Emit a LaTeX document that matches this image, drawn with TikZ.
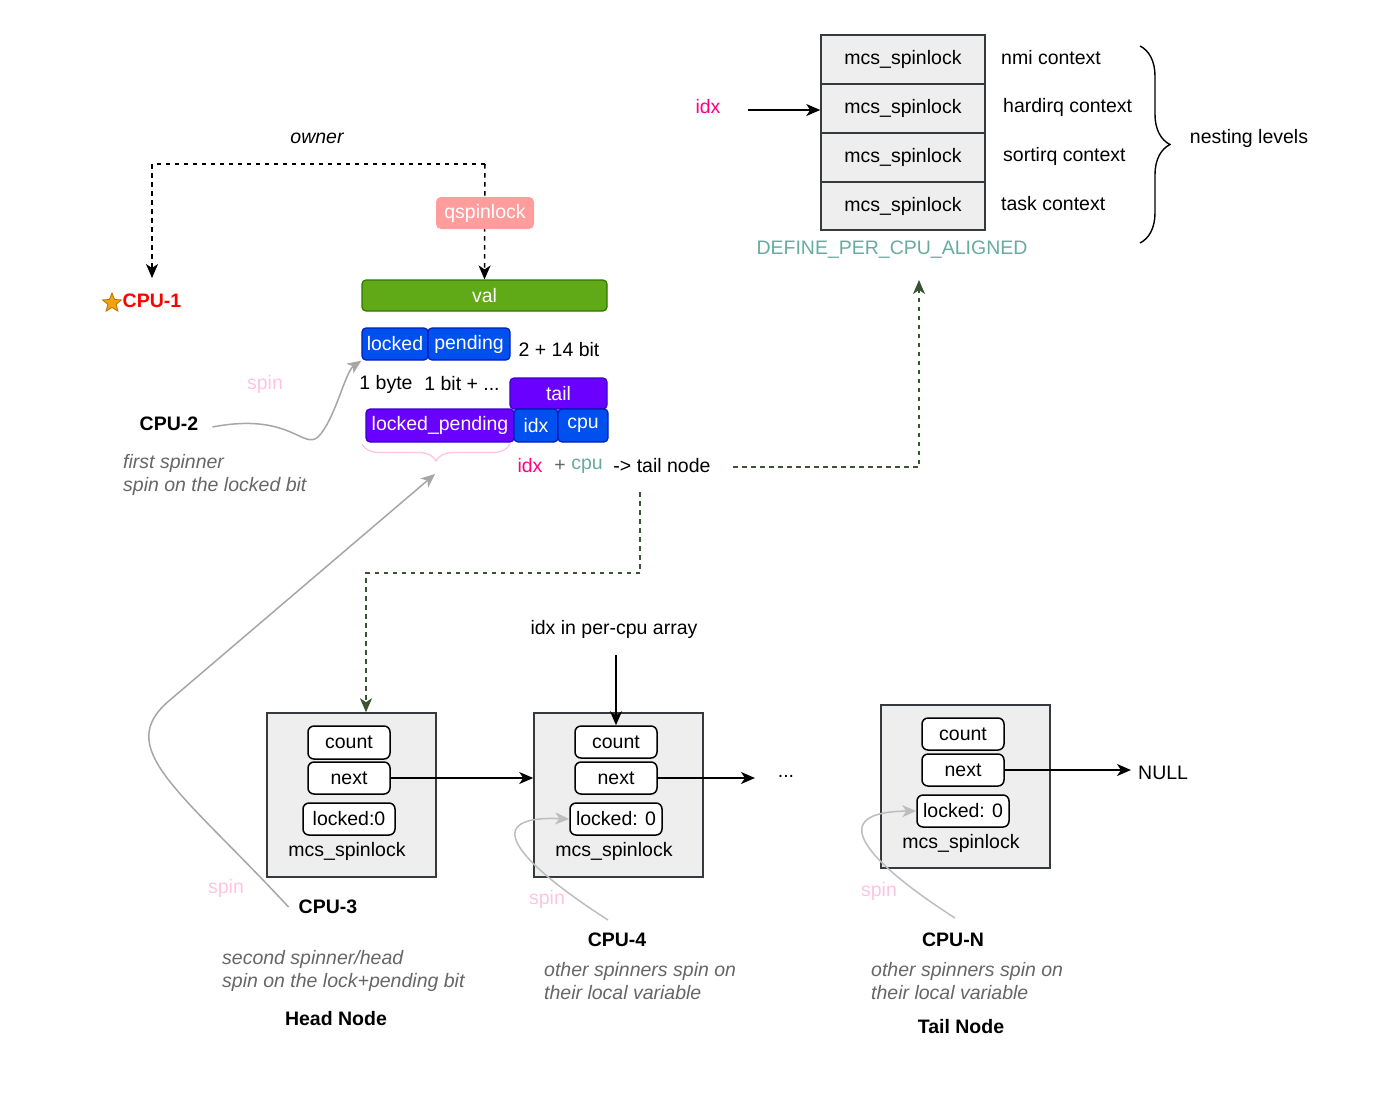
\documentclass[tikz,border=0pt]{standalone}
\usepackage{fontspec}
\setmainfont{Liberation Sans}
\usetikzlibrary{shapes.geometric,arrows.meta,decorations.pathreplacing,calc}
\definecolor{boxfill}{HTML}{EEEEEE}
\definecolor{boxline}{HTML}{36393D}
\definecolor{qred}{HTML}{FF9C9C}
\definecolor{vgreen}{HTML}{60A917}
\definecolor{vgreenb}{HTML}{2D7600}
\definecolor{fblue}{HTML}{0050EF}
\definecolor{fblueb}{HTML}{001DBC}
\definecolor{fpurp}{HTML}{6A00FF}
\definecolor{fpurpb}{HTML}{3700CC}
\definecolor{teal}{HTML}{67AB9F}
\definecolor{magen}{HTML}{FF0080}
\definecolor{itgray}{HTML}{666666}
\definecolor{spinpink}{HTML}{FFC4E1}
\definecolor{dgreen}{HTML}{3A5431}
\definecolor{cgray}{HTML}{A6A6A6}
\definecolor{cgrayl}{HTML}{BDBDBD}
\definecolor{staro}{HTML}{F0A30A}
\definecolor{starb}{HTML}{BD7000}
\begin{document}
\begin{tikzpicture}[x=1pt,y=-1pt,
  txt/.style={font=\fontsize{19.5}{23.4}\selectfont, inner sep=0pt},
  btxt/.style={font=\fontsize{19.5}{23.4}\selectfont\bfseries, inner sep=0pt},
  itxt/.style={font=\fontsize{19.5}{23}\selectfont\itshape, inner sep=0pt, text=itgray, align=left, anchor=west},
  spintxt/.style={txt, text=spinpink},
  field/.style={rectangle, rounded corners=4pt, line width=1.2pt, inner sep=0pt, text=white,
    font=\fontsize{19.5}{23.4}\selectfont, minimum height=32pt},
  bluef/.style={field, fill=fblue, draw=fblueb},
  purpf/.style={field, fill=fpurp, draw=fpurpb},
  trow/.style={rectangle, fill=boxfill, draw=boxline, line width=1.5pt, minimum width=164pt,
    minimum height=49pt, inner sep=0pt, font=\fontsize{19.5}{23.4}\selectfont},
  outer/.style={rectangle, fill=boxfill, draw=boxline, line width=1.5pt, minimum width=169pt,
    minimum height=164pt, inner sep=0pt},
  cell/.style={rectangle, rounded corners=6pt, fill=white, draw=black, line width=1.5pt,
    minimum height=32pt, inner sep=0pt, font=\fontsize{19.5}{23.4}\selectfont},
  arr/.style={line width=1.5pt, -{Stealth[length=14pt,width=12pt,inset=4pt]}},
  bdash/.style={line width=1.5pt, dash pattern=on 4.5pt off 4.5pt},
  gdash/.style={line width=1.5pt, draw=dgreen, dash pattern=on 4.5pt off 4.5pt},
  garr/.style={-{Stealth[length=14pt,width=12pt,inset=4pt,fill=dgreen]}},
  curvearr/.style={line width=1.5pt, draw=#1, -{Stealth[length=14pt,width=12pt,inset=4pt,fill=#1]}}
]
\useasboundingbox (0,0) rectangle (1390,1096);

% ---------- top left: owner / qspinlock / val ----------
\node[txt, font=\fontsize{19.5}{23.4}\selectfont\itshape] (owner) at (317,138) {owner};
\node[rectangle, rounded corners=4pt, fill=vgreen, draw=vgreenb, line width=1.2pt, text=white,
  minimum width=245pt, minimum height=31pt, inner sep=0pt, font=\fontsize{19.5}{23.4}\selectfont] (val) at (484.5,295.5) {val};
\coordinate (own) at (485,164);
\coordinate (cpuonetop) at (152,278);
\draw[bdash, arr] (own) -- (val.north);
\draw[bdash, arr] (own) -| (cpuonetop);
\node[rectangle, rounded corners=5pt, fill=qred, text=white, minimum width=98pt, minimum height=32pt,
  inner sep=0pt, font=\fontsize{19.5}{23.4}\selectfont] (qsl) at (485,213) {qspinlock};
\node[star, star points=5, star point ratio=2.3, fill=staro, draw=starb, line width=0.8pt,
  minimum size=20pt, inner sep=0pt] (star) at (112,303) {};
\node[btxt, text=red] (cpu1) at (152,301) {CPU-1};

% ---------- fields ----------
\node[bluef, minimum width=66pt] (locked) at (395,344) {locked};
\node[bluef, minimum width=82pt] (pending) at (469,344) {pending};
\node[txt] (bits) at (559,350) {2 + 14 bit};
\node[txt] (byte) at (386,384) {1 byte};
\node[txt] (onebit) at (462,384) {1 bit + ...};
\node[purpf, minimum width=97pt, minimum height=31pt] (tail) at (558.5,393.5) {tail};
\node[purpf, minimum width=148pt, minimum height=33pt] (lp) at (440,425.5) {locked\_pending};
\node[bluef, minimum width=44pt, minimum height=33pt] (fidx) at (536,425.5) {idx};
\node[bluef, minimum width=50pt, minimum height=33pt] (fcpu) at (583,425.5) {cpu};
\coordinate (brR) at (510,444);
\coordinate (brL) at (362,444);
\draw[spinpink, line width=1.3pt, decorate, decoration={brace, amplitude=17pt}] (brR) -- (brL);
\coordinate (brtip) at (435,474);

\node[txt, text=magen] (tidx) at (530,466) {idx};
\node[txt, text=itgray] (tplus) at (560,466) {+};
\node[txt, text=teal] (tcpu) at (587,466) {cpu};
\node[txt] (tnode) at (662,466) {-> tail node};

% ---------- CPU-2 ----------
\node[spintxt] (spin2) at (265,384) {spin};
\node[btxt] (cpu2) at (169,424) {CPU-2};
\node[itxt] (first) at (123,474.5) {first spinner\\spin on the locked bit};
\draw[curvearr=cgray] ([shift={(14,3)}]cpu2.east) .. controls (290,412) and (303,450) .. (318,437)
   .. controls (335,420) and (345,372) .. (locked.south west);

% ---------- per-cpu table ----------
\node[trow] (r1) at (903,59.5) {mcs\_spinlock};
\node[trow] (r2) at (903,108.5) {mcs\_spinlock};
\node[trow] (r3) at (903,157.5) {mcs\_spinlock};
\node[trow, minimum height=48pt] (r4) at (903,206) {mcs\_spinlock};
\node[txt, anchor=west] (c1) at (1001,58) {nmi context};
\node[txt, anchor=west] (c2) at (1003,107) {hardirq context};
\node[txt, anchor=west] (c3) at (1003,156) {sortirq context};
\node[txt, anchor=west] (c4) at (1001,204) {task context};
\node[txt, text=magen] (idxt) at (708,107) {idx};
\coordinate (idxs) at (748,110);
\draw[arr] (idxs) -- (r2.west |- idxs);
\coordinate (nbT) at (1140,46);
\coordinate (nbB) at (1140,243);
\draw[line width=1.4pt, decorate, decoration={brace, amplitude=30pt}] (nbT) -- (nbB);
\node[txt] (nest) at (1249,138) {nesting levels};
\node[txt, text=teal] (defpc) at (892,250) {DEFINE\_PER\_CPU\_ALIGNED};

% ---------- green dashed ----------
\coordinate (tnR) at (733,467);
\coordinate (defB) at (919,280);
\draw[gdash, garr] (tnR) -| (defB);

% ---------- bottom boxes ----------
\node[outer] (b3) at (351.5,795) {};
\node[cell, minimum width=82pt, minimum height=33pt] (b3c) at (349,742.5) {count};
\node[cell, minimum width=82pt] (b3n) at (349,778) {next};
\node[cell, minimum width=92pt] (b3l) at (349,819) {locked:0};
\node[txt] (b3t) at (347,851) {mcs\_spinlock};

\node[outer] (b4) at (618.5,795) {};
\node[cell, minimum width=82pt] (b4c) at (616,742) {count};
\node[cell, minimum width=82pt] (b4n) at (616,778) {next};
\node[cell, minimum width=92pt] (b4l) at (616,819) {locked: 0};
\node[txt] (b4t) at (614,851) {mcs\_spinlock};

\node[outer, minimum height=163pt] (bN) at (965.5,786.5) {};
\node[cell, minimum width=82pt] (bNc) at (963,734) {count};
\node[cell, minimum width=82pt] (bNn) at (963,770) {next};
\node[cell, minimum width=92pt] (bNl) at (963,811) {locked: 0};
\node[txt] (bNt) at (961,843) {mcs\_spinlock};

\coordinate (tnD) at (640,492);
\coordinate (hthree) at (366,573);
\draw[gdash, garr] (tnD) |- (hthree) -- (hthree |- b3.north);

\node[txt] (perarr) at (614,629) {idx in per-cpu array};
\coordinate (pas) at (616,655);
\draw[arr] (pas) -- (pas |- b4c.north);

\draw[arr] (b3n.east) -- (b3n.east -| b4.west);
\node[txt] (dots) at (786,776) {...};
\coordinate (dotsin) at (755,778);
\draw[arr] (b4n.east) -- (dotsin);
\node[txt, anchor=west] (null) at (1138,773) {NULL};
\draw[arr] (bNn.east) -- ([xshift=-7pt]null.west |- bNn.east);

% ---------- CPU-3 ----------
\node[spintxt] (spin3) at (226,888) {spin};
\node[btxt] (cpu3) at (328,907) {CPU-3};
\node[itxt] (second) at (222,970.5) {second spinner/head\\spin on the lock+pending bit};
\node[btxt] (head) at (336,1019) {Head Node};
\draw[curvearr=cgray] ([xshift=-10pt]cpu3.west) .. controls (180,790) and (112,748) .. (170,700) -- (brtip);

% ---------- CPU-4 ----------
\node[spintxt] (spin4) at (547,899) {spin};
\node[btxt] (cpu4) at (617,940) {CPU-4};
\node[itxt] (other4) at (544,981) {other spinners spin on\\their local variable};
\coordinate (c4s) at (608,920);
\draw[curvearr=cgrayl] (c4s) .. controls (530,870) and (470,815) .. (b4l.west);

% ---------- CPU-N ----------
\node[spintxt] (spinN) at (879,891) {spin};
\node[btxt] (cpuN) at (953,940) {CPU-N};
\node[itxt] (otherN) at (871,981) {other spinners spin on\\their local variable};
\node[btxt] (tailn) at (961,1027) {Tail Node};
\coordinate (cNs) at (955,918);
\draw[curvearr=cgrayl] (cNs) .. controls (880,870) and (815,812) .. (bNl.west);
\end{tikzpicture}
\end{document}
